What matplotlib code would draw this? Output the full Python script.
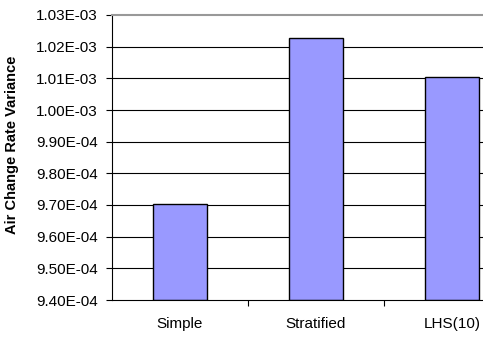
import matplotlib
matplotlib.use("Agg")
import matplotlib.pyplot as plt
from matplotlib.ticker import FixedLocator, FuncFormatter

categories = ["Simple", "Stratified", "LHS(10)"]
variance = [9.703e-04, 1.0226e-03, 1.0105e-03]
y_ticks = [9.40e-04, 9.50e-04, 9.60e-04, 9.70e-04, 9.80e-04, 9.90e-04,
           1.00e-03, 1.01e-03, 1.02e-03, 1.03e-03]

plt.rcParams['font.family'] = ['Liberation Sans', 'DejaVu Sans']

W, H = 483, 338
fig = plt.figure(figsize=(W / 100, H / 100), dpi=100)
# plot area runs past the right edge of the canvas
x0, x1, ytop, ybot = 112, 520, 15, 300
ax = fig.add_axes([x0 / W, 1 - ybot / H, (x1 - x0) / W, (ybot - ytop) / H])

ymin, ymax = y_ticks[0], y_ticks[-1]
ax.set_ylim(ymin, ymax)
ax.set_xlim(-0.5, len(categories) - 0.5)

for t in y_ticks[1:-1]:
    ax.axhline(t, color='#000000', lw=0.8, zorder=0)

xs = range(len(categories))
ax.bar(xs, [v - ymin for v in variance], bottom=ymin, width=0.4,
       color='#9999FF', edgecolor='#000000', linewidth=1.0, zorder=2)

ax.yaxis.set_major_locator(FixedLocator(y_ticks))
ax.yaxis.set_major_formatter(FuncFormatter(lambda v, p: f"{v:.2E}"))
ax.set_xticks(list(xs))
ax.set_xticklabels(categories)
ax.xaxis.set_minor_locator(FixedLocator([0.5, 1.5]))
ax.tick_params(axis='x', which='major', length=0, pad=12, labelsize=11)
ax.tick_params(axis='x', which='minor', length=4, width=0.8, direction='out')
ax.tick_params(axis='y', length=4, width=0.8, direction='out', labelsize=11, pad=6)

ax.spines['right'].set_visible(False)
ax.spines['top'].set_color('#999999')
ax.spines['top'].set_linewidth(1.5)
ax.spines['left'].set_linewidth(0.8)
ax.spines['bottom'].set_linewidth(0.8)

ax.set_ylabel("Air Change Rate Variance", fontsize=10.5, fontweight='bold')
ax.yaxis.set_label_coords(19 / W, 1 - 145 / H, transform=fig.transFigure)

fig.savefig("out.png", dpi=100)
